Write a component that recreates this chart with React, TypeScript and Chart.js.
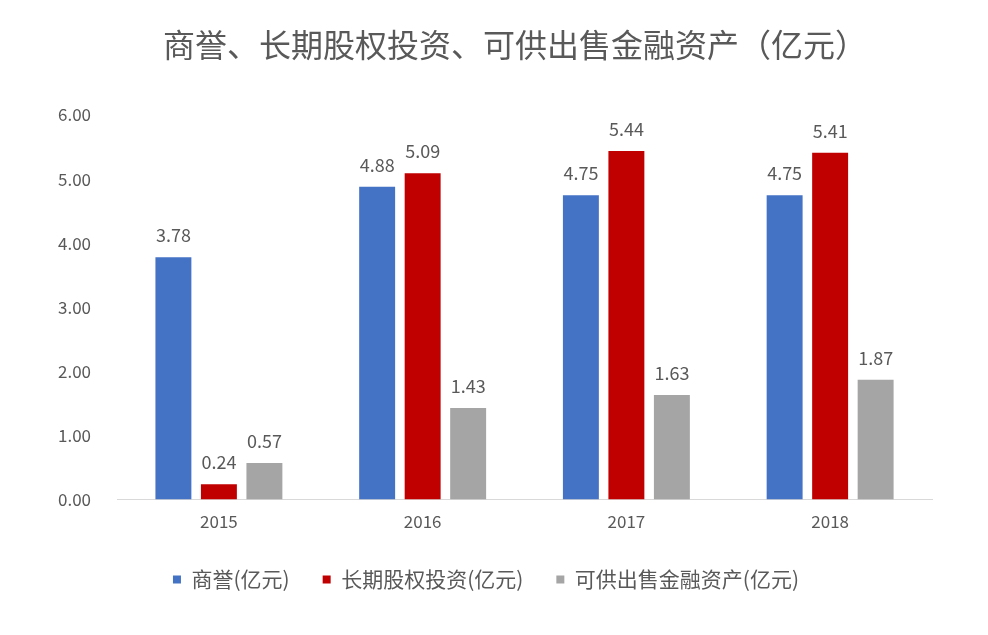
import React, { useEffect, useRef } from "react";
import { Chart, registerables } from "chart.js";

Chart.register(...registerables);

const titleText = "商誉、长期股权投资、可供出售金融资产（亿元）";
const years = ["2015", "2016", "2017", "2018"];
const goodwill = [3.78, 4.88, 4.75, 4.75];
const longTermEquity = [0.24, 5.09, 5.44, 5.41];
const availableForSale = [0.57, 1.43, 1.63, 1.87];
const seriesNames = ["商誉(亿元)", "长期股权投资(亿元)", "可供出售金融资产(亿元)"];
const seriesColors = ["#4472C4", "#C00000", "#A5A5A5"];
const yTicks = [0, 1, 2, 3, 4, 5, 6];

const FONT = "'Noto Sans CJK SC', 'Noto Sans', sans-serif";
const GREY = "#595959";

const labelPlugin = {
  id: "barLabels",
  afterDatasetsDraw(chart: any) {
    const ctx = chart.ctx;
    ctx.save();
    ctx.font = `18px ${FONT}`;
    ctx.fillStyle = GREY;
    ctx.textAlign = "center";
    ctx.textBaseline = "bottom";
    chart.data.datasets.forEach((ds: any, i: number) => {
      const meta = chart.getDatasetMeta(i);
      meta.data.forEach((bar: any, j: number) => {
        ctx.fillText(Number(ds.data[j]).toFixed(2), bar.x, bar.y - 13);
      });
    });
    ctx.font = `32px ${FONT}`;
    ctx.textBaseline = "middle";
    ctx.fillText(titleText, 515, 45);
    ctx.restore();
  },
};

export default function App() {
  const ref = useRef<HTMLCanvasElement>(null);
  useEffect(() => {
    document.body.style.margin = "0";
    const chart = new Chart(ref.current!, {
      type: "bar",
      data: {
        labels: years,
        datasets: [
          { label: seriesNames[0], data: goodwill, backgroundColor: seriesColors[0] },
          { label: seriesNames[1], data: longTermEquity, backgroundColor: seriesColors[1] },
          { label: seriesNames[2], data: availableForSale, backgroundColor: seriesColors[2] },
        ],
      },
      options: {
        animation: false,
        responsive: false,
        devicePixelRatio: 1,
        layout: { padding: { left: 40, right: 56, top: 115, bottom: 35 } },
        datasets: { bar: { categoryPercentage: 0.67, barPercentage: 0.79 } },
        plugins: {
          title: { display: false },
          legend: {
            position: "bottom",
            labels: {
              color: GREY,
              font: { family: FONT, size: 21 },
              boxWidth: 8,
              boxHeight: 8,
              padding: 33,
            },
          },
          tooltip: { enabled: false },
        },
        scales: {
          x: {
            grid: { display: false },
            border: { display: true, color: "#D9D9D9" },
            ticks: { color: GREY, font: { family: FONT, size: 17 }, padding: 4 },
          },
          y: {
            min: 0,
            max: 6,
            afterBuildTicks: (axis: any) => {
              axis.ticks = yTicks.map((v) => ({ value: v }));
            },
            grid: { display: false },
            border: { display: false },
            ticks: {
              color: GREY,
              font: { family: FONT, size: 17 },
              padding: 18,
              callback: (v: any) => Number(v).toFixed(2),
            },
          },
        },
      },
      plugins: [labelPlugin],
    });
    return () => chart.destroy();
  }, []);
  return (
    <div style={{ width: 988, height: 635, background: "#fff" }}>
      <canvas ref={ref} width={988} height={635} />
    </div>
  );
}
